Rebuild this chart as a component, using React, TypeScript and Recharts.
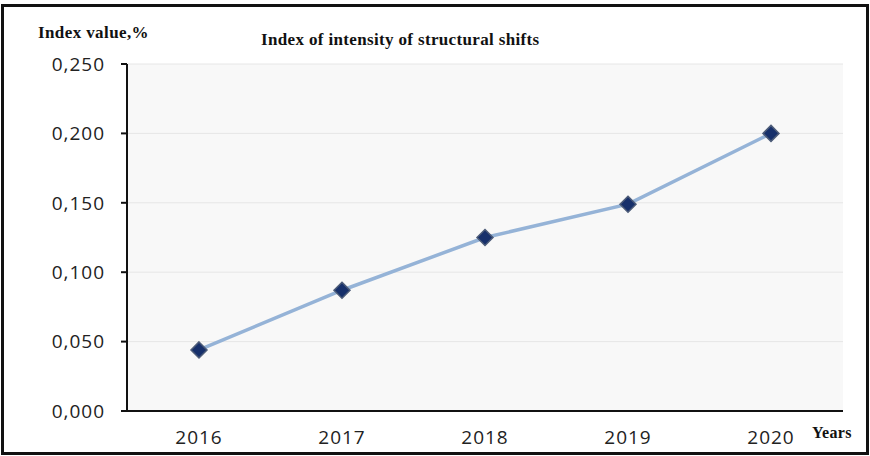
import { LineChart, Line, XAxis, YAxis, CartesianGrid } from "recharts"

const years = ["2016", "2017", "2018", "2019", "2020"]
const indexValues = [0.044, 0.087, 0.125, 0.149, 0.2]
const yTicks = [0, 0.05, 0.1, 0.15, 0.2, 0.25]

const data = years.map((year, i) => ({ year, value: indexValues[i] }))

const fmt = (v: number) => v.toFixed(3).replace(".", ",")

const Diamond = (props: any) => {
  const { cx, cy, index } = props
  const r = 8
  return (
    <polygon
      key={index}
      points={`${cx},${cy - r} ${cx + r},${cy} ${cx},${cy + r} ${cx - r},${cy}`}
      fill="#17306b"
      stroke="#4d5c78"
      strokeWidth={1.5}
    />
  )
}

const boldSerif = { fontFamily: "'Liberation Serif', 'Times New Roman', serif", fontWeight: 700, color: "#111" }

export default function App() {
  return (
    <div style={{ position: "absolute", left: 0, top: 0, width: 870, height: 456, background: "#fff" }}>
      <div
        style={{
          position: "absolute",
          left: 1,
          top: 4,
          width: 862,
          height: 445,
          border: "3px solid #111",
        }}
      />
      <div style={{ position: "absolute", left: 38, top: 23, fontSize: 17, letterSpacing: 0.4, ...boldSerif }}>
        Index value,%
      </div>
      <div style={{ position: "absolute", left: 261, top: 30, fontSize: 17, letterSpacing: 0.35, ...boldSerif }}>
        Index of intensity of structural shifts
      </div>
      <div style={{ position: "absolute", left: 812, top: 424, fontSize: 16, letterSpacing: 0.3, ...boldSerif }}>
        Years
      </div>
      <div style={{ position: "absolute", left: 0, top: 0 }}>
        <LineChart width={870} height={456} data={data} margin={{ top: 64, right: 27, left: 0, bottom: 15 }}>
          <CartesianGrid vertical={false} fill="#f8f8f8" stroke="#e6e6e6" strokeWidth={1} />
          <XAxis
            dataKey="year"
            height={30}
            padding={{ left: 72, right: 72 }}
            axisLine={{ stroke: "#111", strokeWidth: 2 }}
            tickLine={false}
            tickMargin={14}
            tick={{ fill: "#222", fontSize: 19, fontFamily: "'Open Sans', sans-serif", letterSpacing: 1 }}
          />
          <YAxis
            width={127}
            domain={[0, 0.25]}
            ticks={yTicks}
            tickFormatter={fmt}
            interval={0}
            axisLine={{ stroke: "#111", strokeWidth: 2 }}
            tickLine={{ stroke: "#111", strokeWidth: 2 }}
            tickSize={6}
            tickMargin={16}
            tick={{ fill: "#222", fontSize: 19, fontFamily: "'Open Sans', sans-serif", letterSpacing: 1 }}
          />
          <Line
            type="linear"
            dataKey="value"
            stroke="#95b3d7"
            strokeWidth={3.5}
            dot={Diamond}
            activeDot={false}
            isAnimationActive={false}
          />
        </LineChart>
      </div>
    </div>
  )
}
